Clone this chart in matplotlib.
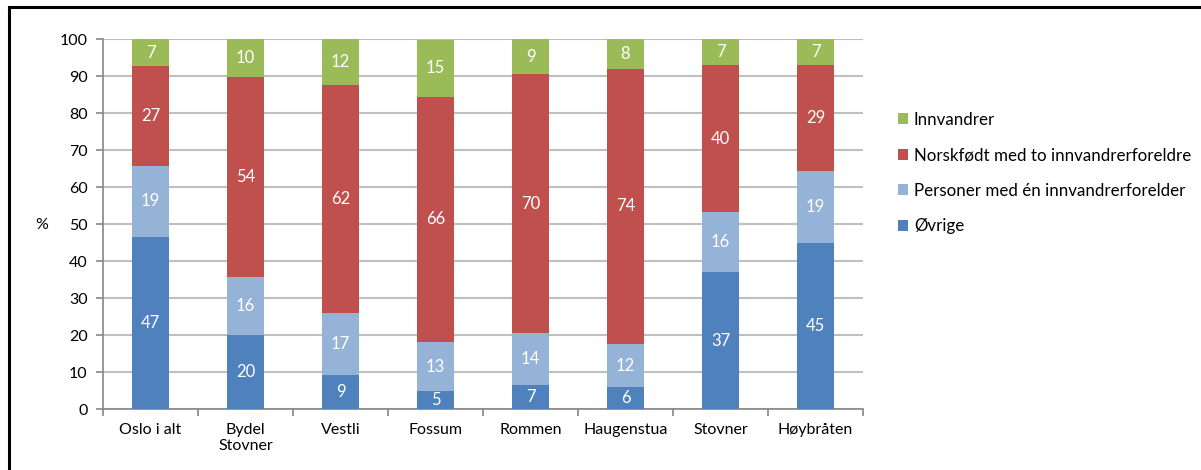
import matplotlib
matplotlib.use('Agg')
import matplotlib.pyplot as plt
import numpy as np
from matplotlib.lines import Line2D
from matplotlib.patches import Patch

plt.rcParams['font.family'] = ['Lato', 'DejaVu Sans']
plt.rcParams['font.size'] = 11.5

# Data (percent)
categories = ['Oslo i alt', 'Bydel\nStovner', 'Vestli', 'Fossum', 'Rommen',
              'Haugenstua', 'Stovner', 'Høybråten']
ovrige = [46.6, 20.1, 9.2, 4.9, 6.6, 5.9, 37.2, 45.0]
en_forelder = [19.3, 15.7, 16.8, 13.3, 13.9, 11.8, 16.1, 19.4]
norskfodt = [26.8, 54.1, 61.6, 66.3, 70.1, 74.4, 39.7, 28.7]
innvandrer = [7.3, 10.1, 12.4, 15.4, 9.4, 7.9, 7.0, 6.9]

series = [
    ('Øvrige', ovrige, '#4f81bd'),
    ('Personer med én innvandrerforelder', en_forelder, '#95b3d7'),
    ('Norskfødt med to innvandrerforeldre', norskfodt, '#c0504d'),
    ('Innvandrer', innvandrer, '#9bbb59'),
]

fig = plt.figure(figsize=(12.01, 4.70), dpi=100)
ax = fig.add_axes([103 / 1201, 0.1291, 760 / 1201, 0.787])

x = np.arange(len(categories))
bottom = np.zeros(len(categories))
for name, vals, color in series:
    vals = np.array(vals)
    ax.bar(x, vals, width=0.39, bottom=bottom, color=color, zorder=3)
    for xi, b, v in zip(x, bottom, vals):
        ax.text(xi, b + v / 2, f"{round(v)}", ha='center', va='center',
                color='white', fontsize=12, zorder=4)
    bottom += vals

ax.set_xlim(-0.5, len(categories) - 0.5)
ax.set_ylim(0, 100)
ax.set_yticks(range(0, 101, 10))
ax.set_xticks(x)
ax.set_xticklabels(categories)
ax.set_xticks(np.arange(-0.5, len(categories), 1), minor=True)
ax.tick_params(axis='x', which='major', length=0, pad=10)
ax.tick_params(axis='x', which='minor', length=5, color='#868686', width=1.2)
ax.tick_params(axis='y', length=5, color='#868686', width=1.2, pad=6)
ax.grid(axis='y', color='#bfbfbf', linewidth=1.5, zorder=0)
for s in ['top', 'right']:
    ax.spines[s].set_visible(False)
for s in ['left', 'bottom']:
    ax.spines[s].set_color('#868686')
    ax.spines[s].set_linewidth(1.2)

fig.text(42 / 1201, 1 - 225 / 470, '%', ha='center', va='center', fontsize=11.5)

# Legend
handles = [Patch(facecolor=c, label=n) for n, _, c in reversed(series)]
fig.legend(handles=handles, loc='upper left', bbox_to_anchor=(891 / 1201, 1 - 105 / 470),
           frameon=False, handlelength=0.6, handleheight=0.6, handletextpad=0.35,
           labelspacing=1.15, fontsize=12.2, borderaxespad=0)

# Frame lines (top and left)
fig.add_artist(Line2D([9 / 1201, 1], [1 - 7 / 470, 1 - 7 / 470], color='black', linewidth=2.2,
                      transform=fig.transFigure))
fig.add_artist(Line2D([9 / 1201, 9 / 1201], [0, 1 - 7 / 470], color='black', linewidth=2.2,
                      transform=fig.transFigure))

fig.savefig('out.png', dpi=100, facecolor='white')
